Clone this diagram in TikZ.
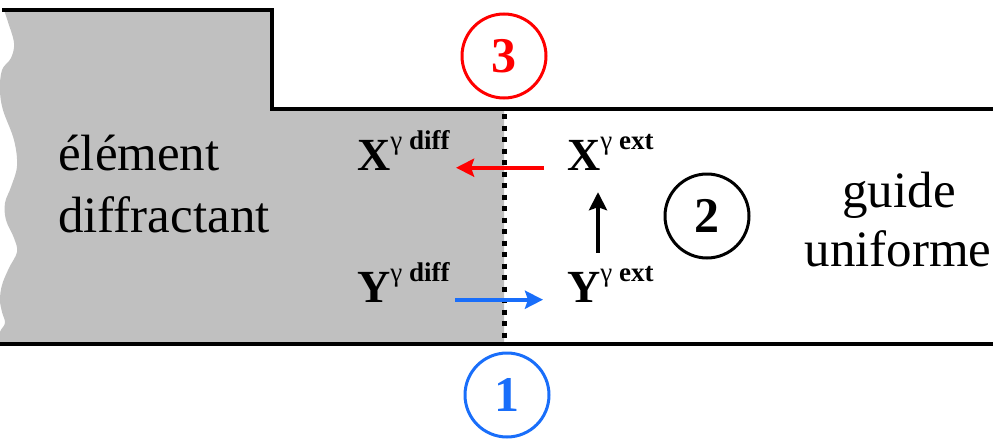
\documentclass[tikz,border=0pt]{standalone}
\usepackage{fontspec}
\setmainfont{Liberation Serif}
\usetikzlibrary{arrows.meta}
\definecolor{gfill}{RGB}{192,192,192}
\definecolor{myblue}{RGB}{25,110,250}
\definecolor{myred}{RGB}{255,0,0}
\newcommand\mylbl[2]{\textbf{#1}\raisebox{21pt}{\fontsize{27}{27}\selectfont γ \textbf{#2}}}
\tikzset{
  wall/.style={line width=4pt, line cap=rect},
  bigtext/.style={inner sep=0pt, font=\fontsize{51}{60}\selectfont},
  sym/.style={inner sep=0pt, font=\fontsize{46}{50}\selectfont},
  num/.style={circle, line width=3pt, minimum size=84pt, inner sep=0pt, font=\bfseries\fontsize{50}{50}\selectfont},
  arr/.style={line width=4pt, -{Stealth[length=18pt,width=18pt,inset=3pt]}},
}
\begin{document}
\begin{tikzpicture}[x=1pt,y=-1pt]
\useasboundingbox (0,0) rectangle (993,439);
\clip (0,0) rectangle (993,439);
% grey diffracting element
\fill[gfill] plot[smooth, tension=0.6] coordinates {(0,344) (0,332) (5,323) (2,312) (0,300) (2,285) (9,268) (17,252) (14,238) (6,220) (5,203) (11,187) (17,166) (14,140) (3,110) (0,90) (2,70) (11,58) (14,43) (8,22) (4,10)}
  -- (272,10) -- (272,109) -- (504,109) -- (504,344) -- cycle;
% waveguide walls
\draw[wall] (4,10) -- (272,10) -- (272,109) -- (1000,109);
\draw[wall] (0,344) -- (1000,344);
% interface
\draw[line width=5pt, dash pattern=on 5pt off 6.5pt] (504,114) -- (504,342);
% texts
\node[bigtext, anchor=base west] (el1) at (58,170) {élément};
\node[bigtext, anchor=base west] (el2) at (58,232) {diffractant};
\node[bigtext, anchor=base] (gu1) at (899,207) {guide};
\node[bigtext, anchor=base] (gu2) at (898,266) {uniforme};
% labels
\node[sym, anchor=base west] (Xd) at (357,170) {\mylbl{X}{diff}};
\node[sym, anchor=base west] (Yd) at (357,302) {\mylbl{Y}{diff}};
\node[sym, anchor=base west] (Xe) at (567,170) {\mylbl{X}{ext}};
\node[sym, anchor=base west] (Ye) at (567,302) {\mylbl{Y}{ext}};
% arrows
\draw[arr, myred, shorten <=23pt, shorten >=6pt] (Xe.mid west) -- (Xd.mid west -| Xd.east);
\draw[arr, myblue, shorten <=5pt, shorten >=24pt] (Yd.mid west -| Yd.east) -- (Ye.mid west);
\draw[arr, black, shorten <=13pt, shorten >=22pt] ([xshift=31pt]Ye.north west) -- ([xshift=31pt]Xe.south west);
% numbered circles
\node[num, draw=myred, text=myred] (c3) at (504,56) {3};
\node[num, draw=black] (c2) at (707,216) {2};
\node[num, draw=myblue, text=myblue] (c1) at (507,395) {1};
\end{tikzpicture}
\end{document}
